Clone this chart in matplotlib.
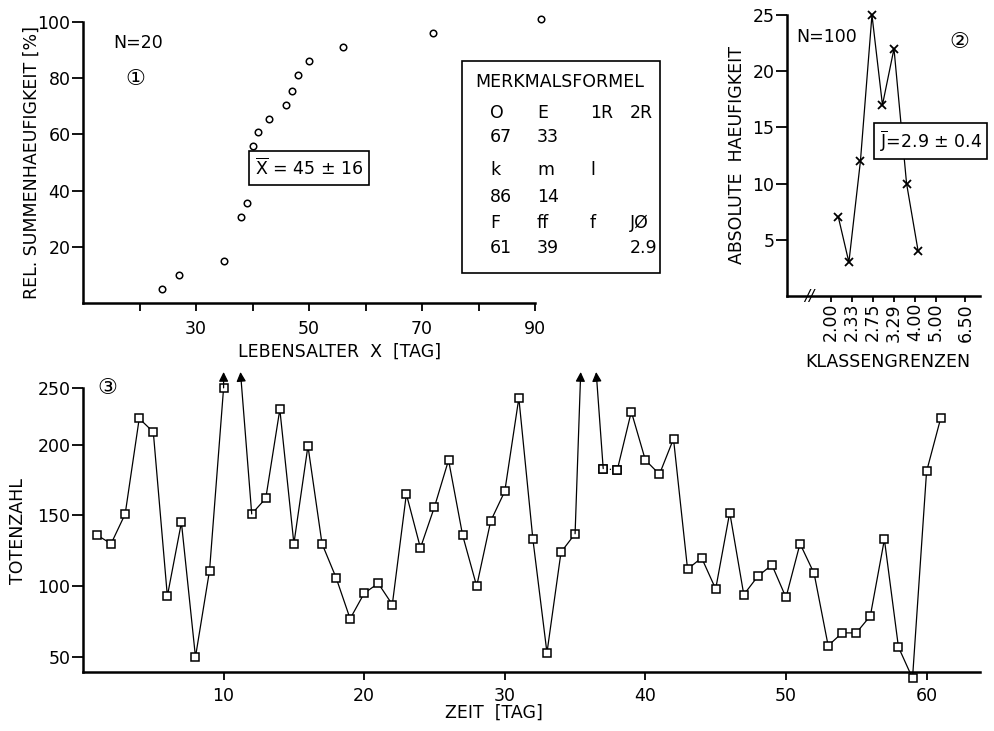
import numpy as np
import matplotlib
matplotlib.use('Agg')
from matplotlib import pyplot as plt
from matplotlib.patches import Rectangle

plt.rcParams['font.family'] = ['DejaVu Sans', 'Noto Sans CJK JP']
plt.rcParams['font.size'] = 12.5

# panel 1: cumulative frequency vs age
age = [24, 27, 35, 38, 39, 40, 41, 43, 46, 47, 48, 50, 56, 72, 91]
cum_pct = [5, 10, 15, 30.5, 35.5, 56, 61, 65.5, 70.5, 75.5, 81, 86, 91, 96, 101]
age_ticks = [30, 50, 70, 90]
age_minor = [20, 40, 60, 80]

# formula table
merkmal_rows = [['O', 'E', '1R', '2R'],
                ['67', '33', '', ''],
                ['k', 'm', 'l', ''],
                ['86', '14', '', ''],
                ['F', 'ff', 'f', 'JØ'],
                ['61', '39', '', '2.9']]

# panel 2: absolute frequency per class
klass_pos = [0.35, 0.85, 1.4, 1.95, 2.45, 3.0, 3.6, 4.15]
abs_freq = [7, 3, 12, 25, 17, 22, 10, 4]
klass_ticks = [0, 1, 2, 3, 4, 5, 6.4]
klass_labels = ['2.00', '2.33', '2.75', '3.29', '4.00', '5.00', '6.50']

# panel 3: deaths per day (nan = off scale)
nan = np.nan
days = np.arange(1, 62)
deaths = [136, 130, 151, 223, 211, 93, 145, 50, 111, 250, nan, 151, 162, 231, 130,
          199, 130, 106, 77, 95, 102, 87, 165, 127, 156, 189, 136, 100, 146, 167,
          241, 133, 53, 124, 137, nan, 183, 182, 229, 189, 179, 205, 112, 120, 98,
          152, 94, 107, 115, 92, 130, 109, 58, 67, 67, 79, 133, 57, 35, 181, 223]
# arrows to off-scale values: (start day, tip day)
offscale = [(10, 10.0), (12, 11.2), (35, 35.4), (37, 36.5)]

W, H = 994, 731
fig = plt.figure(figsize=(W / 100, H / 100), dpi=100)


def px_axes(x0, y0, x1, y1):
    return fig.add_axes([x0 / W, 1 - y1 / H, (x1 - x0) / W, (y1 - y0) / H])


def ftext(x, y, s, **kw):
    return fig.text(x / W, 1 - y / H, s, **kw)


def style(ax):
    for s in ['top', 'right']:
        ax.spines[s].set_visible(False)
    for s in ['left', 'bottom']:
        ax.spines[s].set_linewidth(1.8)
    ax.tick_params(direction='out', width=1.3, length=8, pad=1)


# ---- panel 1
ax1 = px_axes(83, 22, 535, 303)
style(ax1)
ax1.scatter(age, cum_pct, s=22, facecolors='white', edgecolors='black',
            linewidths=1.1, clip_on=False, zorder=3)
ax1.set_xlim(10, 90)
ax1.set_ylim(0, 100)
ax1.set_xticks(age_ticks)
ax1.set_xticks(age_minor, minor=True)
ax1.tick_params(axis='x', which='both', length=6, width=1.3, pad=6)
ax1.set_yticks([20, 40, 60, 80, 100])
ax1.spines['left'].set_bounds(0, 100)
ax1.set_ylabel('REL. SUMMENHAEUFIGKEIT [%]', va='center')
ax1.yaxis.set_label_coords((32 - 83) / 452, 0.5)
ax1.set_xlabel('LEBENSALTER  X  [TAG]', va='center')
ax1.xaxis.set_label_coords((340 - 83) / 452, -(352 - 303) / 281)
ax1.text(19.7, 92.5, 'N=20', ha='center', va='center')
ax1.text(19.2, 79.7, '①', ha='center', va='center', fontsize=16)
ax1.text(50, 48, r'$\overline{\mathrm{X}}$ = 45 ± 16', ha='center', va='center',
         bbox=dict(boxstyle='square,pad=0.35', fc='white', ec='black', lw=1.2))

# ---- formula box
fig.patches.append(Rectangle((462 / W, 1 - 273 / H), (660 - 462) / W, (273 - 61) / H,
                             transform=fig.transFigure, fill=False, ec='black', lw=1.2))
ftext(475, 82, 'MERKMALSFORMEL', va='center')
col_x = [490, 537, 590, 630]
row_y = [113, 137, 170, 197, 223, 248]
for r, row in enumerate(merkmal_rows):
    for c, cell in enumerate(row):
        ftext(col_x[c], row_y[r], cell, va='center')

# ---- panel 2
ax2 = px_axes(787, 15, 980, 296)
style(ax2)
ax2.plot(klass_pos, abs_freq, color='black', lw=0.9, marker='x', ms=6, mew=1.3,
         clip_on=False)
ax2.set_xlim(-2.1, 7.1)
ax2.set_ylim(0, 25)
ax2.set_yticks([5, 10, 15, 20, 25])
ax2.set_xticks(klass_ticks)
ax2.set_xticklabels(klass_labels, rotation=90)
ax2.tick_params(axis='x', length=4, pad=1)
ax2.text(-1.05, 0, '//', ha='center', va='center', fontsize=11, style='italic')
ax2.set_ylabel('ABSOLUTE  HAEUFIGKEIT', va='center')
ax2.yaxis.set_label_coords((737 - 787) / 193, 0.5)
ax2.set_xlabel('KLASSENGRENZEN', va='center')
ax2.xaxis.set_label_coords((888 - 787) / 193, -(362 - 296) / 281)
ax2.text(-0.2, 23.0, 'N=100', ha='center', va='center')
ax2.text(6.1, 22.6, '②', ha='center', va='center', fontsize=16)
ax2.text(4.75, 13.8, r'$\overline{\mathrm{J}}$=2.9 ± 0.4', ha='center', va='center',
         bbox=dict(boxstyle='square,pad=0.3', fc='white', ec='black', lw=1.2))


# ---- panel 3 (hand-drawn scale: upper part compressed)
def fwd(v):
    v = np.asarray(v, dtype=float)
    return np.where(v <= 200, v, 200 + (v - 200) * 0.8)


def inv(u):
    u = np.asarray(u, dtype=float)
    return np.where(u <= 200, u, 200 + (u - 200) / 0.8)


ax3 = px_axes(83, 372, 980, 672)
style(ax3)
ax3.set_yscale('function', functions=(fwd, inv))
deaths = np.array(deaths, dtype=float)
mk = dict(color='black', lw=0.9, marker='s', ms=6, mfc='white', mec='black', mew=1.1,
          clip_on=False)
ax3.plot(days[:37], deaths[:37], **mk)
ax3.plot(days[36:38], deaths[36:38], ls=':', **mk)
ax3.plot(days[37:], deaths[37:], **mk)
ax3.set_xlim(0, 63.8)
ax3.set_ylim(39.4, 264)
ytop = 264
for d0, d1 in offscale:
    ax3.annotate('', xy=(d1, ytop), xytext=(d0, deaths[d0 - 1]),
                 arrowprops=dict(arrowstyle='-|>', color='black', lw=0.9,
                                 mutation_scale=14, shrinkA=0, shrinkB=0),
                 annotation_clip=False)
ax3.set_yticks([50, 100, 150, 200, 250])
ax3.set_xticks([10, 20, 30, 40, 50, 60])
ax3.yaxis.set_minor_locator(matplotlib.ticker.NullLocator())
ax3.tick_params(axis='x', length=6, pad=5)
ax3.spines['left'].set_bounds(39.4, 250)
ax3.set_ylabel('TOTENZAHL', va='center')
ax3.yaxis.set_label_coords((18 - 83) / 897, (672 - 531) / 300)
ax3.set_xlabel('ZEIT  [TAG]', va='center')
ax3.xaxis.set_label_coords((494 - 83) / 897, -(713 - 672) / 300)
ax3.text(1.7, 250, '③', ha='center', va='center', fontsize=16)

fig.savefig('out.png', dpi=100)
